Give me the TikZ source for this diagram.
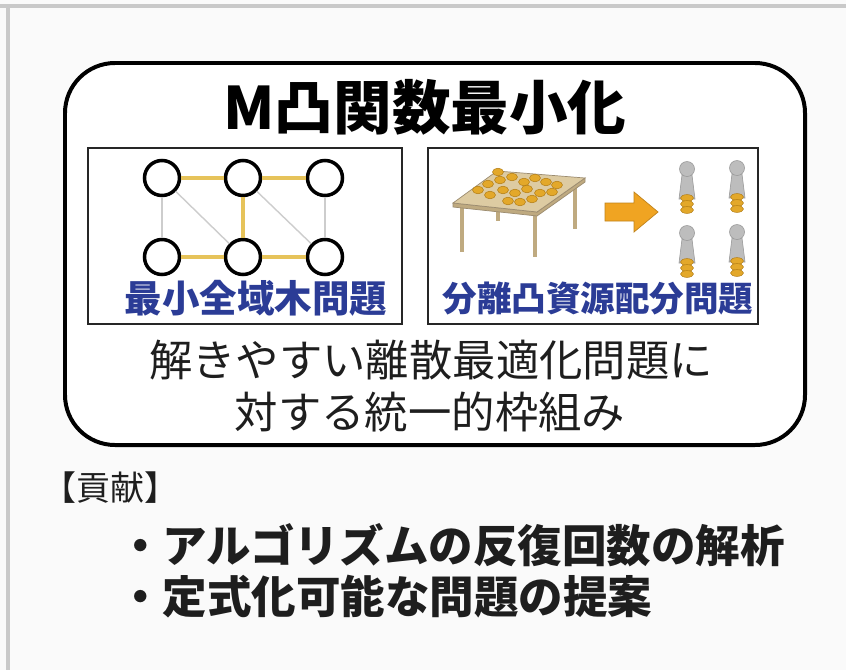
\documentclass[tikz,border=0pt]{standalone}
\usepackage{fontspec}
\setmainfont{Noto Sans CJK JP}

\definecolor{framegrey}{HTML}{C9C9C9}
\definecolor{labelblue}{HTML}{2B3C96}
\definecolor{treegold}{HTML}{E6C35A}
\definecolor{edgegrey}{HTML}{CDCDCD}
\definecolor{coin}{HTML}{E3A82A}
\definecolor{coinedge}{HTML}{B07A12}
\definecolor{tabletop}{HTML}{DDCBA2}
\definecolor{tableside}{HTML}{BFAA80}
\definecolor{tableedge}{HTML}{9C8C70}
\definecolor{arroworange}{HTML}{F0A422}
\definecolor{persongrey}{HTML}{BDBDBD}
\definecolor{ink}{HTML}{1E1E1E}

\tikzset{
  vtx/.style={circle, draw=black, line width=3pt, minimum size=1.05cm, inner sep=0pt},
  tree/.style={treegold, line width=3pt},
  nontree/.style={edgegrey, line width=1.2pt},
  coinst/.style={fill=coin, draw=coinedge, line width=0.4pt},
  problabel/.style={font=\bfseries\fontsize{31}{33}\selectfont, text=labelblue, inner sep=0pt},
  bodytext/.style={font=\fontsize{37}{39}\selectfont, text=ink, inner sep=0pt},
  itemtext/.style={font=\bfseries\fontsize{38}{40}\selectfont, text=ink, anchor=west, inner sep=0pt},
}

\begin{document}
\begin{tikzpicture}[x=0.03cm, y=-0.03cm]
\useasboundingbox (0,0) rectangle (846,670);
\fill[white!98!black] (0,0) rectangle (846,670);
\draw[framegrey, line width=3.5pt] (0,6) -- (846,6);
\draw[framegrey, line width=3.5pt] (8,6) -- (8,670);

% outer frame
\draw[line width=3.4pt, rounded corners=1.5cm, fill=white] (65,63) rectangle (805,445);
\node[font=\bfseries\fontsize{50}{52}\selectfont, inner sep=0pt] (title) at (425,107) {M凸関数最小化};

% spanning tree panel
\draw[line width=2.5pt, draw=black!85] (88,148) rectangle (402,324);
\node[vtx] (a1) at (162,178) {};
\node[vtx] (a2) at (243,178) {};
\node[vtx] (a3) at (325,178) {};
\node[vtx] (b1) at (162,257) {};
\node[vtx] (b2) at (243,257) {};
\node[vtx] (b3) at (325,257) {};
\draw[nontree] (a1) -- (b1);
\draw[nontree] (a1) -- (b2);
\draw[nontree] (a2) -- (b3);
\draw[nontree] (a3) -- (b3);
\draw[tree] (a1) -- (a2);
\draw[tree] (a2) -- (a3);
\draw[tree] (a2) -- (b2);
\draw[tree] (b1) -- (b2);
\draw[tree] (b2) -- (b3);
\node[problabel, font=\bfseries\fontsize{32}{34}\selectfont] (mst) at (256,298) {最小全域木問題};

% resource allocation panel
\draw[line width=2.5pt, draw=black!85] (428,148) rectangle (758,324);

% table
\draw[tableside, line width=4pt] (462,205) -- (462,252);
\draw[tableside, line width=4pt] (535,214) -- (535,257);
\draw[tableside, line width=4pt] (575,185) -- (575,229);
\draw[tableside, line width=4pt] (498,205) -- (498,221);
\filldraw[fill=tableside, draw=tableedge, line width=0.6pt]
  (453,203) -- (537,212) -- (585,178) -- (585,182) -- (537,216) -- (453,207) -- cycle;
\filldraw[fill=tabletop, draw=tableedge, line width=0.6pt]
  (453,203) -- (497,171) -- (585,178) -- (537,212) -- cycle;
\foreach \cx/\cy in {478/190, 488/184, 500/180, 512/177, 524/182, 535/178,
  546/182, 557/185, 490/195, 503/190, 515/193, 527/189, 540/193, 552/192,
  508/201, 520/202, 532/199, 498/172}
  \draw[coinst] (\cx,\cy) ellipse (5.5 and 3.8);

% arrow
\filldraw[fill=arroworange, draw=arroworange!80!black, line width=0.6pt]
  (605,203) -- (634,203) -- (634,192) -- (658,212) -- (634,232) -- (634,221) -- (605,221) -- cycle;

% people with their shares
\foreach \hx/\hy in {687/169, 737/168, 687/233, 737/232} {
  \filldraw[fill=persongrey, draw=black!40, line width=0.5pt]
    (\hx-5,\hy+6) -- (\hx+5,\hy+6) -- (\hx+8,\hy+30) -- (\hx-8,\hy+30) -- cycle;
  \filldraw[fill=persongrey, draw=black!40, line width=0.5pt] (\hx,\hy) circle (7.5);
  \foreach \k in {0,1,2}
    \draw[coinst] (\hx,\hy+29+6*\k) ellipse (6.5 and 3.4);
}
\node[problabel, font=\bfseries\fontsize{29.5}{31}\selectfont] (sra) at (598,298) {分離凸資源配分問題};

% framework statement
\node[bodytext] (line1) at (431,360) {解きやすい離散最適化問題に};
\node[bodytext] (line2) at (430,412) {対する統一的枠組み};

% contributions
\node[font=\fontsize{29}{31}\selectfont, text=ink, anchor=west, inner sep=0pt] (contrib) at (42,488) {【貢献】};
\node[itemtext] (item1) at (118,545) {・アルゴリズムの反復回数の解析};
\node[itemtext] (item2) at (118,597) {・定式化可能な問題の提案};
\end{tikzpicture}
\end{document}
